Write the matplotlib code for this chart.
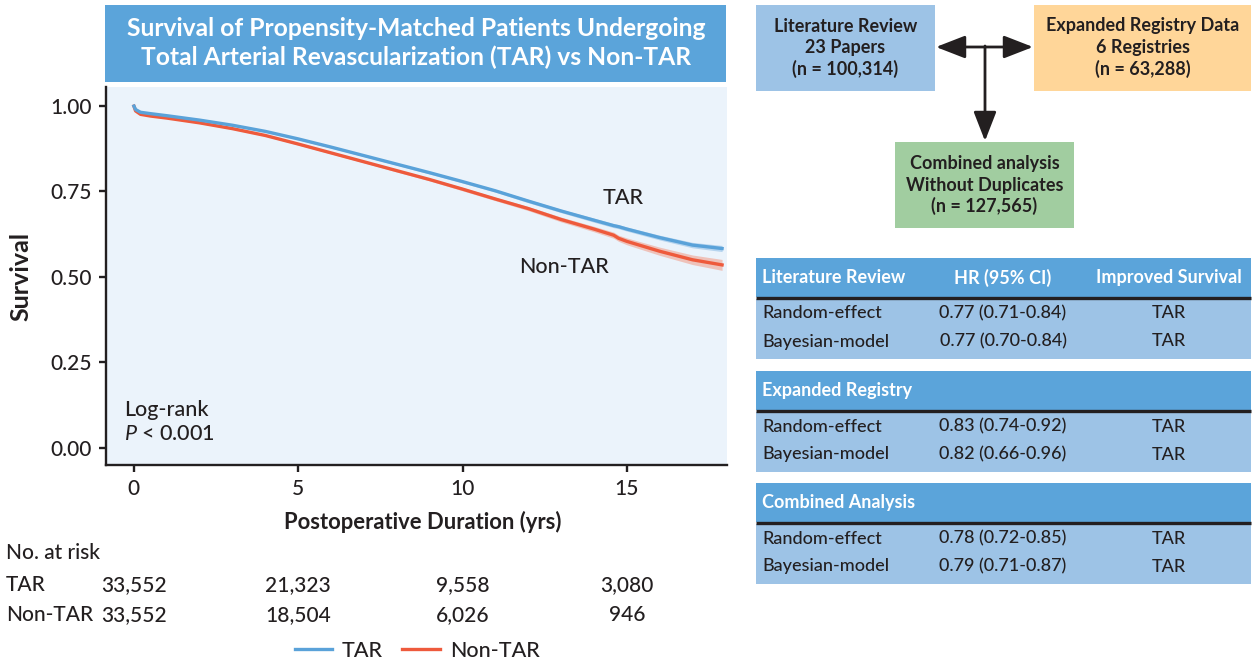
import matplotlib
matplotlib.use('Agg')
import matplotlib.pyplot as plt
from matplotlib.patches import Rectangle
from matplotlib.lines import Line2D
from matplotlib.transforms import blended_transform_factory
import numpy as np

# ---------------- data ----------------
years = [0, 0.05, 0.2, 0.5, 1, 2, 3, 4, 5, 6, 7, 8, 9, 10, 11, 12, 13, 14,
         14.6, 14.75, 15, 16, 17, 17.9]
tar = [1.000, 0.990, 0.982, 0.978, 0.972, 0.959, 0.944, 0.926, 0.904, 0.880,
       0.855, 0.830, 0.805, 0.779, 0.752, 0.722, 0.693, 0.666, 0.650, 0.647,
       0.640, 0.615, 0.593, 0.583]
nontar = [1.000, 0.986, 0.976, 0.971, 0.965, 0.951, 0.934, 0.914, 0.889, 0.863,
          0.837, 0.811, 0.785, 0.757, 0.728, 0.700, 0.668, 0.640, 0.622, 0.613,
          0.604, 0.575, 0.550, 0.535]
tar_ci = [0, 0.001, 0.001, 0.001, 0.001, 0.002, 0.002, 0.002, 0.003, 0.003,
          0.003, 0.003, 0.004, 0.004, 0.004, 0.005, 0.005, 0.006, 0.006, 0.006,
          0.006, 0.007, 0.008, 0.009]
nontar_ci = [0, 0.001, 0.001, 0.001, 0.001, 0.002, 0.002, 0.002, 0.003, 0.003,
             0.003, 0.004, 0.004, 0.005, 0.005, 0.006, 0.007, 0.008, 0.009, 0.009,
             0.010, 0.012, 0.014, 0.016]

x_ticks = [0, 5, 10, 15]
y_ticks = [0.00, 0.25, 0.50, 0.75, 1.00]
y_ticklabels = ['0.00', '0.25', '0.50', '0.75', '1.00']

risk_years = [0, 5, 10, 15]
risk_tar = ['33,552', '21,323', '9,558', '3,080']
risk_nontar = ['33,552', '18,504', '6,026', '946']

title_lines = ['Survival of Propensity-Matched Patients Undergoing',
               'Total Arterial Revascularization (TAR) vs Non-TAR']

flow_lit = ['Literature Review', '23 Papers', '(n = 100,314)']
flow_reg = ['Expanded Registry Data', '6 Registries', '(n = 63,288)']
flow_comb = ['Combined analysis', 'Without Duplicates', '(n = 127,565)']

table_sections = ['Literature Review', 'Expanded Registry', 'Combined Analysis']
table_models = ['Random-effect', 'Bayesian-model']
table_hr = [['0.77 (0.71-0.84)', '0.77 (0.70-0.84)'],
            ['0.83 (0.74-0.92)', '0.82 (0.66-0.96)'],
            ['0.78 (0.72-0.85)', '0.79 (0.71-0.87)']]
table_improved = [['TAR', 'TAR'], ['TAR', 'TAR'], ['TAR', 'TAR']]
table_col_headers = ['HR (95% CI)', 'Improved Survival']

# ---------------- style ----------------
FONT = ['Lato', 'DejaVu Sans']
plt.rcParams['font.family'] = FONT
plt.rcParams['mathtext.fontset'] = 'custom'
plt.rcParams['mathtext.it'] = 'Lato:italic'
plt.rcParams['mathtext.rm'] = 'Lato'
MED = 'medium'
DARK = '#231F20'
BLUE = '#5AA2D9'
RED = '#EE5A3C'
HEAD = '#5BA4DA'
LIGHT = '#9DC3E6'
PEACH = '#FFD699'
GREEN = '#A1CDA0'
BG = '#EBF3FB'

W, H = 1253, 664
fig = plt.figure(figsize=(W / 100, H / 100), dpi=100)

# main KM axes
L, R, T, B = 106, 727, 87, 465
ax = fig.add_axes([L / W, 1 - B / H, (R - L) / W, (B - T) / H])

# overlay axes in pixel coordinates (drawn above)
ov = fig.add_axes([0, 0, 1, 1])
ov.set_xlim(0, W)
ov.set_ylim(H, 0)
ov.axis('off')
ov.patch.set_visible(False)
ov.set_zorder(5)

ax.set_facecolor(BG)
ax.set_xlim(-0.85, 18.05)
ax.set_ylim(-0.051, 1.056)
for s in ['top', 'right']:
    ax.spines[s].set_visible(False)
for s in ['left', 'bottom']:
    ax.spines[s].set_linewidth(1.7)
    ax.spines[s].set_color(DARK)
ax.set_xticks(x_ticks)
ax.set_yticks(y_ticks)
ax.set_yticklabels(y_ticklabels)
ax.tick_params(axis='both', length=5, width=1.7, color=DARK, labelsize=15,
               labelcolor=DARK, pad=5)
for lab in ax.get_xticklabels() + ax.get_yticklabels():
    lab.set_fontweight(MED)

yr = np.array(years)
t = np.array(tar); n = np.array(nontar)
tc = np.array(tar_ci); nc = np.array(nontar_ci)
ax.fill_between(yr, n - nc, n + nc, color='#F0A898', alpha=0.65, lw=0, zorder=2)
ax.fill_between(yr, t - tc, t + tc, color='#A9CDEC', alpha=0.8, lw=0, zorder=2)
ax.plot(yr, n, color=RED, lw=2.4, zorder=3, label='Non-TAR')
ax.plot(yr, t, color=BLUE, lw=2.4, zorder=4, label='TAR')

ax.set_xlabel('Postoperative Duration (yrs)', fontsize=15.8, fontweight='bold', color=DARK)
ax.set_ylabel('Survival', fontsize=18, fontweight='bold', color=DARK)
ax.xaxis.set_label_coords((423 - L) / (R - L), -(522 - B) / (B - T))
ax.yaxis.set_label_coords((21 - L) / (R - L), 0.5)
ax.xaxis.label.set_va('center')
ax.yaxis.label.set_va('center')

# curve labels
TS = 15.5
ov.text(623, 198, 'TAR', fontsize=TS, fontweight=MED, color=DARK, ha='center', va='center')
ov.text(564, 267, 'Non-TAR', fontsize=TS, fontweight=MED, color=DARK, ha='center', va='center')
ov.text(124, 410, 'Log-rank', fontsize=TS, fontweight=MED, color=DARK, ha='left', va='center')
ov.text(124, 434, r'$\mathit{P}$ < 0.001', fontsize=TS, fontweight=MED, color=DARK,
        ha='left', va='center')

# title box
ov.add_patch(Rectangle((105, 5), 621, 77, facecolor=HEAD, edgecolor='none'))
ov.text(416, 28, title_lines[0], fontsize=17.7, fontweight='bold', color='white',
        ha='center', va='center')
ov.text(416, 57, title_lines[1], fontsize=17.7, fontweight='bold', color='white',
        ha='center', va='center')

# number at risk
RS = 15
btr = blended_transform_factory(ax.transData, ov.transData)
ov.text(6, 553, 'No. at risk', fontsize=RS, fontweight=MED, color=DARK, ha='left', va='center')
ov.text(6, 585, 'TAR', fontsize=RS, fontweight=MED, color=DARK, ha='left', va='center')
ov.text(6, 615, 'Non-TAR', fontsize=RS, fontweight=MED, color=DARK, ha='left', va='center')
for yv, a, b in zip(risk_years, risk_tar, risk_nontar):
    ov.text(yv, 585, a, transform=btr, fontsize=RS, fontweight=MED, color=DARK,
            ha='center', va='center', clip_on=False)
    ov.text(yv, 615, b, transform=btr, fontsize=RS, fontweight=MED, color=DARK,
            ha='center', va='center', clip_on=False)

# legend
handles = [Line2D([], [], color=BLUE, lw=2.4), Line2D([], [], color=RED, lw=2.4)]
leg = fig.legend(handles, ['TAR', 'Non-TAR'], loc='center', bbox_to_anchor=(417 / W, 1 - 651 / H),
                 ncol=2, frameon=False, fontsize=TS, handlelength=1.75, columnspacing=0.9,
                 handletextpad=0.45, labelcolor=DARK)
for tx in leg.get_texts():
    tx.set_fontweight(MED)

# flowchart
FS = 13
def box(x0, y0, x1, y1, color, lines, cy):
    ov.add_patch(Rectangle((x0, y0), x1 - x0, y1 - y0, facecolor=color, edgecolor='none'))
    cx = (x0 + x1) / 2
    for i, s in enumerate(lines):
        ov.text(cx, cy[i], s, fontsize=FS, fontweight='bold', color=DARK, ha='center', va='center')

box(756, 5, 935, 91, LIGHT, flow_lit, [26, 47, 69])
box(1034, 5, 1251, 91, PEACH, flow_reg, [26, 47, 69])
box(895, 142, 1074, 228, GREEN, flow_comb, [163, 185, 206])

ap = dict(arrowstyle='-|>,head_length=0.9,head_width=0.35', lw=2, color=DARK,
          shrinkA=0, shrinkB=0, mutation_scale=20)
ov.annotate('', xy=(936, 47), xytext=(985, 47), arrowprops=ap)
ov.annotate('', xy=(1033, 47), xytext=(985, 47), arrowprops=ap)
ov.annotate('', xy=(985, 141), xytext=(985, 46), arrowprops=ap)

# tables
tops = [258, 371, 483]
for k in range(3):
    top = tops[k]
    ov.add_patch(Rectangle((756, top), 495, 39, facecolor=HEAD, edgecolor='none'))
    ov.add_patch(Rectangle((756, top + 41), 495, 59.5, facecolor=LIGHT, edgecolor='none'))
    ov.plot([756, 1251], [top + 40, top + 40], color=DARK, lw=2.4, solid_capstyle='butt')
    hy = top + 19.5
    ov.text(762, hy, table_sections[k], fontsize=FS, fontweight='bold', color='white',
            ha='left', va='center')
    if k == 0:
        ov.text(1003, hy, table_col_headers[0], fontsize=FS, fontweight='bold', color='white',
                ha='center', va='center')
        ov.text(1169, hy, table_col_headers[1], fontsize=FS, fontweight='bold', color='white',
                ha='center', va='center')
    for j in range(2):
        ry = top + 55.5 + 28 * j
        ov.text(762, ry, table_models[j], fontsize=FS, fontweight=MED, color=DARK, ha='left', va='center')
        ov.text(1003, ry, table_hr[k][j], fontsize=FS, fontweight=MED, color=DARK, ha='center', va='center')
        ov.text(1169, ry, table_improved[k][j], fontsize=FS, fontweight=MED, color=DARK,
                ha='center', va='center')

fig.savefig('out.png', dpi=100)
